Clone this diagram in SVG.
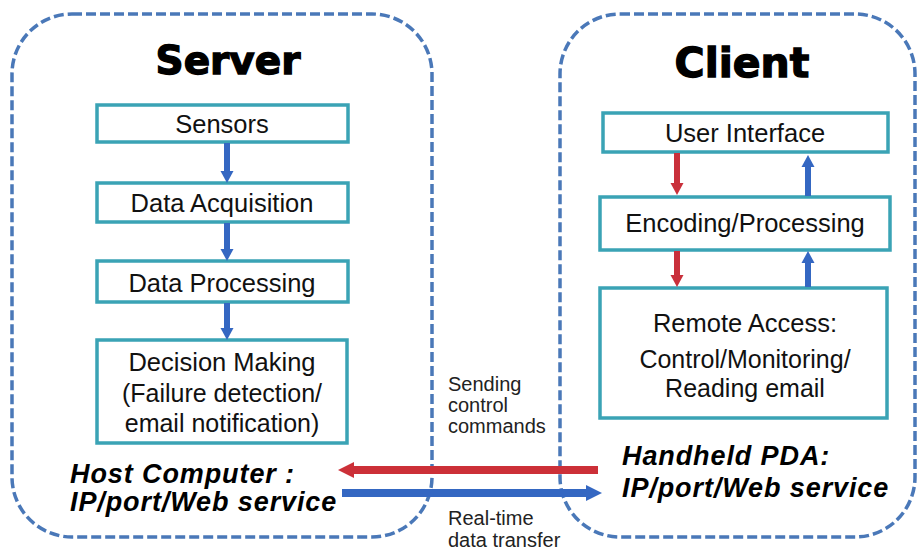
<svg xmlns="http://www.w3.org/2000/svg" width="918" height="551" viewBox="0 0 918 551">
<style>
.container{fill:#fff;stroke:#4a78b8;stroke-width:3.5;stroke-dasharray:10 4}
.box{fill:#fff;stroke:#3aa3b5;stroke-width:3.5}
.title{font-family:"DejaVu Sans",sans-serif;font-weight:bold;fill:#000;stroke:#000;stroke-width:1.3;text-anchor:middle}
.lbl{font-family:"Liberation Sans",Arial,sans-serif;font-size:25.5px;fill:#111;text-anchor:middle}
.sub{font-family:"Liberation Sans",Arial,sans-serif;font-size:25px;fill:#111;text-anchor:middle}
.host{font-family:"Liberation Sans",Arial,sans-serif;font-size:27px;font-weight:bold;font-style:italic;letter-spacing:0.9px;fill:#000}
.side{font-family:"Liberation Sans",Arial,sans-serif;font-size:20px;fill:#222}
.vb{stroke:#3467c2;stroke-width:6;fill:none}
.vr{stroke:#c9303b;stroke-width:6;fill:none}
.hb{stroke:#3467c2;stroke-width:8;fill:none}
.hr{stroke:#cc3038;stroke-width:8;fill:none}
</style>
<defs>
<marker id="hbv" markerUnits="userSpaceOnUse" markerWidth="14" markerHeight="14" viewBox="0 0 14 14" refX="4" refY="7" orient="auto"><path d="M0,0.5 L12,7 L0,13.5 z" fill="#3467c2"/></marker>
<marker id="hrv" markerUnits="userSpaceOnUse" markerWidth="14" markerHeight="14" viewBox="0 0 14 14" refX="4" refY="7" orient="auto"><path d="M0,0.5 L12,7 L0,13.5 z" fill="#c9303b"/></marker>
<marker id="hbh" markerUnits="userSpaceOnUse" markerWidth="18" markerHeight="18" viewBox="0 0 18 18" refX="6" refY="9" orient="auto"><path d="M0,1 L16,9 L0,17 z" fill="#3467c2"/></marker>
<marker id="hrh" markerUnits="userSpaceOnUse" markerWidth="18" markerHeight="18" viewBox="0 0 18 18" refX="6" refY="9" orient="auto"><path d="M0,1 L16,9 L0,17 z" fill="#cc3038"/></marker>
</defs>
<rect width="918" height="551" fill="#fff"/>

<g id="server">
<rect class="container" x="12" y="14" width="420" height="523" rx="60" ry="60"/>
<text class="title" x="228" y="74" font-size="39">Server</text>
<text class="host" x="70" y="483">Host Computer :</text>
<text class="host" x="70" y="511">IP/port/Web service</text>
</g>

<g id="client">
<rect class="container" x="560" y="14" width="355" height="523" rx="60" ry="60"/>
<text class="title" x="742" y="77" font-size="41">Client</text>
<text class="host" x="622" y="465">Handheld PDA:</text>
<text class="host" x="622" y="497">IP/port/Web service</text>
</g>

<g id="sensors">
<rect class="box" x="97" y="105" width="251" height="37"/>
<text class="lbl" x="222" y="133">Sensors</text>
</g>
<g id="data-acquisition">
<rect class="box" x="97" y="183" width="251" height="39"/>
<text class="lbl" x="222" y="212">Data Acquisition</text>
</g>
<g id="data-processing">
<rect class="box" x="97" y="261" width="251" height="41"/>
<text class="lbl" x="222" y="292">Data Processing</text>
</g>
<g id="decision-making">
<rect class="box" x="97" y="340" width="250" height="103"/>
<text class="lbl" x="222" y="371">Decision Making</text>
<text class="sub" x="222" y="402">(Failure detection/</text>
<text class="sub" x="222" y="432">email notification)</text>
</g>

<g id="user-interface">
<rect class="box" x="603" y="113" width="285" height="39"/>
<text class="lbl" x="745" y="142">User Interface</text>
</g>
<g id="encoding-processing">
<rect class="box" x="600" y="197" width="290" height="53"/>
<text class="lbl" x="745" y="232">Encoding/Processing</text>
</g>
<g id="remote-access">
<rect class="box" x="600" y="288" width="287" height="130"/>
<text class="lbl" x="745" y="332">Remote Access:</text>
<text class="sub" x="745" y="368">Control/Monitoring/</text>
<text class="sub" x="745" y="397">Reading email</text>
</g>

<g id="labels">
<text class="side" x="448" y="391">Sending</text>
<text class="side" x="448" y="412">control</text>
<text class="side" x="448" y="433">commands</text>
<text class="side" x="448" y="525">Real-time</text>
<text class="side" x="448" y="547">data transfer</text>
</g>

<g id="connectors">
<line class="vb" x1="227" y1="143" x2="227" y2="175" marker-end="url(#hbv)"/>
<line class="vb" x1="227" y1="223" x2="227" y2="253" marker-end="url(#hbv)"/>
<line class="vb" x1="227" y1="303" x2="227" y2="332" marker-end="url(#hbv)"/>
<line class="vr" x1="677" y1="153" x2="677" y2="187" marker-end="url(#hrv)"/>
<line class="vr" x1="677" y1="251" x2="677" y2="279" marker-end="url(#hrv)"/>
<line class="vb" x1="808" y1="196" x2="808" y2="163" marker-end="url(#hbv)"/>
<line class="vb" x1="808" y1="287" x2="808" y2="259" marker-end="url(#hbv)"/>
<line class="hr" x1="598" y1="470" x2="348" y2="470" marker-end="url(#hrh)"/>
<line class="hb" x1="342" y1="493" x2="592" y2="493" marker-end="url(#hbh)"/>
</g>
</svg>
